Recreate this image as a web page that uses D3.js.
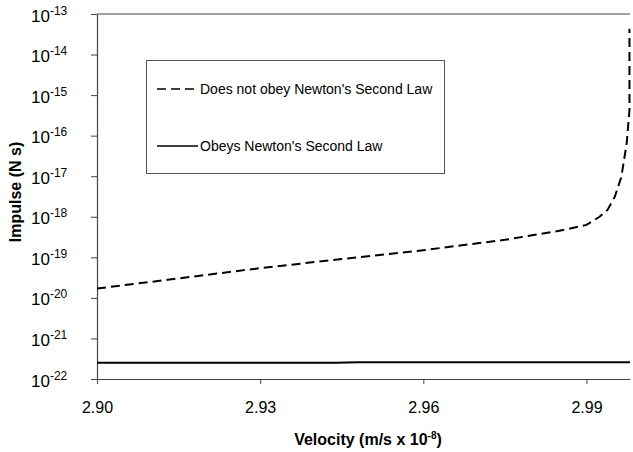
<!DOCTYPE html>
<html>
<head>
<meta charset="utf-8">
<script src="https://cdn.jsdelivr.net/npm/d3@7"></script>
<style>
  body { margin: 0; background: #fff; }
  text { font-family: Arial, "Liberation Sans", sans-serif; }
</style>
</head>
<body>
<script>
// velocity (m/s x 10^-8) and impulse (N s)
const dashedX = [2.900, 2.913, 2.930, 2.945, 2.960, 2.975, 2.985, 2.990, 2.9924, 2.9939, 2.9952, 2.9964, 2.9974, 2.9979, 2.9979];
const dashedY = [1.7e-20, 2.8e-20, 5.4e-20, 9.1e-20, 1.5e-19, 2.7e-19, 4.5e-19, 6.3e-19, 1.0e-18, 1.5e-18, 3.1e-18, 9.5e-18, 6.6e-17, 4.3e-16, 4.3e-14];
const solidX = [2.900, 2.930, 2.944, 2.948, 2.960, 2.990, 2.998];
const solidY = [2.5e-22, 2.5e-22, 2.5e-22, 2.6e-22, 2.6e-22, 2.6e-22, 2.6e-22];
const xTicks = [2.90, 2.93, 2.96, 2.99];
const yExponents = [-13, -14, -15, -16, -17, -18, -19, -20, -21, -22];
const seriesNames = ["Does not obey Newton's Second Law", "Obeys Newton's Second Law"];

const width = 633, height = 452;
const margin = { left: 97, right: 3, top: 14, bottom: 73 };

let svg = d3.select("body").append("svg")
    .attr("width", width)
    .attr("height", height);

//scales
let xScale = d3.scaleLinear().domain([2.90, 2.998]).range([margin.left, width - margin.right]);
let yScale = d3.scaleLog().domain([1e-22, 1e-13]).range([height - margin.bottom, margin.top]);

//top line
svg.append("line")
    .attr("x1", margin.left).attr("x2", width - margin.right)
    .attr("y1", yScale(1e-13)).attr("y2", yScale(1e-13))
    .attr("stroke", "#444").attr("stroke-width", 1.2);

//x axis
const xAxis = d3.axisBottom(xScale).tickValues(xTicks).tickFormat(d3.format(".2f")).tickSize(5).tickSizeOuter(0);
let gx = svg.append("g")
    .attr("transform", `translate(0, ${height - margin.bottom})`)
    .call(xAxis);
gx.select(".domain").attr("stroke", "#444").attr("stroke-width", 1.2);
gx.selectAll(".tick line").attr("stroke", "#444");
gx.selectAll("text")
    .attr("y", 23)
    .attr("dy", "0.71em")
    .attr("font-size", 16)
    .attr("fill", "#000");

//y axis
const yAxis = d3.axisLeft(yScale).tickValues(yExponents.map(e => Math.pow(10, e))).tickFormat("").tickSize(6).tickSizeOuter(0);
let gy = svg.append("g")
    .attr("transform", `translate(${margin.left}, 0)`)
    .call(yAxis);
gy.select(".domain").attr("stroke", "#444").attr("stroke-width", 1.2);
gy.selectAll(".tick line").attr("stroke", "#444");
gy.selectAll(".tick").each(function(d) {
    const t = d3.select(this).append("text")
        .attr("x", -66)
        .attr("y", 7)
        .attr("text-anchor", "start")
        .attr("fill", "#000")
        .attr("font-size", 17);
    t.append("tspan").text("10");
    t.append("tspan").attr("dy", -7).attr("font-size", 12).text(Math.round(Math.log10(d)));
});

//axis titles
svg.append("text")
    .attr("transform", `translate(21, 192) rotate(-90)`)
    .attr("text-anchor", "middle")
    .attr("font-weight", "bold")
    .attr("font-size", 16)
    .text("Impulse (N s)");

let xt = svg.append("text")
    .attr("x", 368)
    .attr("y", 445)
    .attr("text-anchor", "middle")
    .attr("font-weight", "bold")
    .attr("font-size", 16);
xt.append("tspan").text("Velocity (m/s x 10");
xt.append("tspan").attr("dy", -6).attr("font-size", 10).text("-8");
xt.append("tspan").attr("dy", 6).text(")");

//lines
const line = d3.line().x(d => xScale(d[0])).y(d => yScale(d[1]));

svg.append("path")
    .datum(d3.zip(dashedX, dashedY))
    .attr("d", line)
    .attr("fill", "none")
    .attr("stroke", "#000")
    .attr("stroke-width", 2)
    .attr("stroke-dasharray", "9,5");

svg.append("path")
    .datum(d3.zip(solidX, solidY))
    .attr("d", line)
    .attr("fill", "none")
    .attr("stroke", "#000")
    .attr("stroke-width", 2);

//legend
let legend = svg.append("g");
legend.append("rect")
    .attr("x", 146.5).attr("y", 60.5)
    .attr("width", 298).attr("height", 113)
    .attr("fill", "#fff")
    .attr("stroke", "#555");

const legendY = [89, 146];
seriesNames.forEach((name, i) => {
    legend.append("line")
        .attr("x1", 157).attr("x2", 198)
        .attr("y1", legendY[i]).attr("y2", legendY[i])
        .attr("stroke", "#000")
        .attr("stroke-width", 1.5)
        .attr("stroke-dasharray", i === 0 ? "9,5" : null);
    legend.append("text")
        .attr("x", 200)
        .attr("y", legendY[i] + 5)
        .attr("font-size", 14)
        .text(name);
});
</script>
</body>
</html>
